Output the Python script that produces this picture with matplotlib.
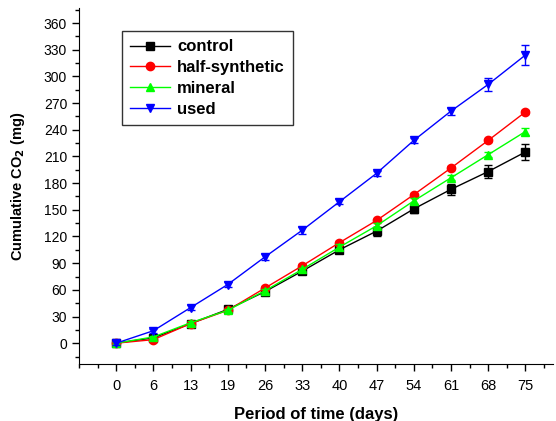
import matplotlib
matplotlib.use("Agg")
import matplotlib.pyplot as plt
from matplotlib.ticker import MultipleLocator

plt.rcParams['font.family'] = ['Liberation Sans', 'DejaVu Sans']

# Data (cumulative CO2, mg)
days = [0, 6, 13, 19, 26, 33, 40, 47, 54, 61, 68, 75]
control = [0, 6, 22, 38, 58, 81, 105, 126, 151, 173, 193, 215]
control_err = [2, 2, 2, 2, 3, 3, 4, 5, 5, 6, 7, 9]
half_synthetic = [0, 4, 22, 37, 62, 87, 113, 138, 167, 197, 228, 260]
half_err = [1, 1, 1, 1, 2, 2, 2, 2, 2, 2, 2, 2]
mineral = [0, 7, 23, 37, 59, 83, 108, 132, 160, 186, 212, 238]
mineral_err = [1, 1, 2, 2, 2, 2, 3, 3, 3, 3, 3, 4]
used = [0, 14, 40, 66, 97, 127, 159, 191, 228, 261, 291, 324]
used_err = [2, 2, 3, 3, 3, 4, 3, 3, 3, 4, 7, 11]

series = [
    ("control", control, control_err, "black", "s", 5.2),
    ("half-synthetic", half_synthetic, half_err, "red", "o", 6),
    ("mineral", mineral, mineral_err, "#00ff00", "^", 6),
    ("used", used, used_err, "blue", "v", 6),
]

fig = plt.figure(figsize=(5.56, 4.21), dpi=100)
ax = fig.add_axes([0.142, 0.135, 0.853, 0.846])

pos = list(range(len(days)))
for name, vals, err, col, mk, ms in series:
    ax.errorbar(pos, vals, yerr=err, fmt='none', ecolor=col,
                elinewidth=1, capsize=3, capthick=1)
    ax.plot(pos, vals, color=col, marker=mk, markersize=ms,
            linewidth=1, label=name)

ax.set_xlim(-1.0, 11.75)
ax.set_ylim(-23.6, 377)
ax.set_xticks(pos)
ax.set_xticklabels([str(d) for d in days], fontsize=10.5)
ax.xaxis.set_minor_locator(MultipleLocator(0.5))
ax.set_yticks(range(0, 361, 30))
ax.yaxis.set_minor_locator(MultipleLocator(15))
ax.tick_params(axis='y', labelsize=10)
ax.tick_params(which='major', length=5, width=1, direction='out')
ax.tick_params(which='minor', length=3, width=1, direction='out')
ax.tick_params(axis='x', pad=6)

for s in ['top', 'right']:
    ax.spines[s].set_visible(False)

ax.set_xlabel("Period of time (days)", fontsize=12, fontweight='bold', labelpad=10)
ax.set_ylabel("Cumulative CO$_\\mathbf{2}$ (mg)", fontsize=10.5, fontweight='bold',
              labelpad=12)

leg = ax.legend(loc='upper left', bbox_to_anchor=(0.091, 0.935), frameon=True,
                fancybox=False, edgecolor='black', prop={'weight': 'bold', 'size': 12},
                handlelength=2.4, handletextpad=0.4, labelspacing=0.35,
                borderpad=0.5, borderaxespad=0)
leg.get_frame().set_linewidth(1)

fig.savefig("out.png", dpi=100)
